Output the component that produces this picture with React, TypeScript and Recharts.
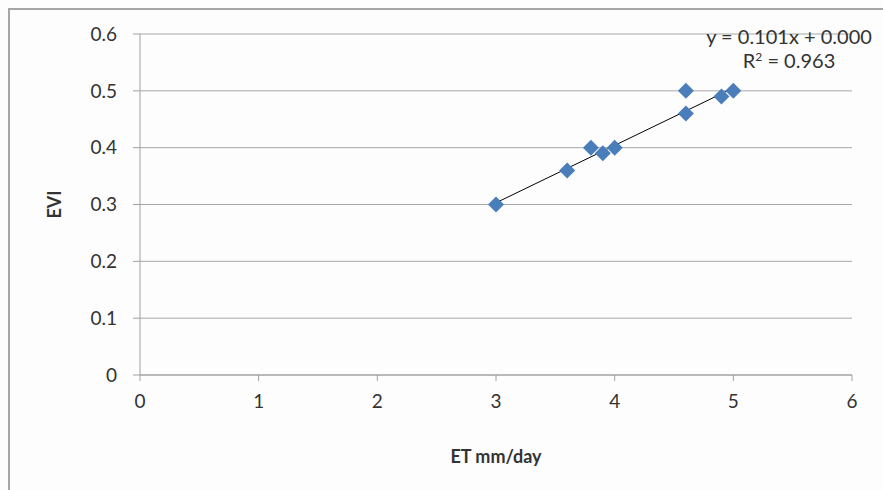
import React from "react";
import {
  ScatterChart,
  Scatter,
  XAxis,
  YAxis,
  CartesianGrid,
  ReferenceLine,
  Label,
} from "recharts";

// ET (mm/day) vs EVI points
const etValues = [3.0, 3.6, 3.8, 3.9, 4.0, 4.6, 4.6, 4.9, 5.0];
const eviValues = [0.3, 0.36, 0.4, 0.39, 0.4, 0.5, 0.46, 0.49, 0.5];

const xTicks = [0, 1, 2, 3, 4, 5, 6];
const yTicks = [0, 0.1, 0.2, 0.3, 0.4, 0.5, 0.6];

// linear trendline shown in the chart: y = 0.101x + 0.000
const trendSlope = 0.101;
const trendIntercept = 0;
const trendRange = [3.0, 5.0];

const data = etValues.map((x, i) => ({ x, y: eviValues[i] }));

const FONT = "Lato, 'Open Sans', sans-serif";
const MARKER = "#4a7ebb";

// square diamond marker like the Excel one
const Diamond = (props: any) => {
  const { cx, cy } = props;
  const r = 8;
  return (
    <path
      d={`M${cx},${cy - r}L${cx + r},${cy}L${cx},${cy + r}L${cx - r},${cy}Z`}
      fill={MARKER}
    />
  );
};

const App: React.FC = () => {
  const tickStyle = { fontFamily: FONT, fontSize: 19, fill: "#333" };
  return (
    <div
      style={{
        position: "absolute",
        left: 0,
        top: 0,
        width: 883,
        height: 490,
        background: "#fdfdfd",
        fontFamily: FONT,
      }}
    >
      {/* frame of the pasted chart, only top & left edges visible */}
      <div
        style={{
          position: "absolute",
          left: 8,
          top: 8,
          width: 900,
          height: 500,
          borderTop: "2px solid #a6a6a6",
          borderLeft: "2px solid #a6a6a6",
        }}
      />
      <ScatterChart
        width={883}
        height={490}
        margin={{ top: 34, right: 31, bottom: 15, left: 40 }}
      >
        <CartesianGrid horizontal vertical={false} stroke="#a8a8a8" />
        <XAxis
          type="number"
          dataKey="x"
          domain={[0, 6]}
          ticks={xTicks}
          height={100}
          stroke="#a0a0a0"
          tickSize={6}
          tickMargin={14}
          tick={tickStyle}
        >
          <Label
            value="ET mm/day"
            position="insideBottom"
            offset={12}
            style={{ fontFamily: FONT, fontSize: 18, fontWeight: 700, fill: "#333" }}
          />
        </XAxis>
        <YAxis
          type="number"
          dataKey="y"
          domain={[0, 0.6]}
          ticks={yTicks}
          width={100}
          stroke="#a0a0a0"
          tickSize={7}
          tickMargin={16}
          tick={tickStyle}
        >
          <Label
            value="EVI"
            angle={-90}
            position="insideLeft"
            offset={15}
            style={{
              fontFamily: FONT,
              fontSize: 18,
              fontWeight: 700,
              fill: "#333",
              textAnchor: "middle",
            }}
          />
        </YAxis>
        <Scatter data={data} shape={<Diamond />} isAnimationActive={false} />
        <ReferenceLine
          segment={[
            { x: trendRange[0], y: trendSlope * trendRange[0] + trendIntercept },
            { x: trendRange[1], y: trendSlope * trendRange[1] + trendIntercept },
          ]}
          stroke="#000"
          strokeWidth={1}
        />
      </ScatterChart>
      <div
        style={{
          position: "absolute",
          left: 694,
          top: 24,
          width: 190,
          textAlign: "center",
          fontSize: 20,
          lineHeight: "24px",
          color: "#333",
        }}
      >
        <div>y = 0.101x + 0.000</div>
        <div>
          R<sup style={{ fontSize: 12, verticalAlign: "7px", lineHeight: 0 }}>2</sup> = 0.963
        </div>
      </div>
    </div>
  );
};

export default App;
